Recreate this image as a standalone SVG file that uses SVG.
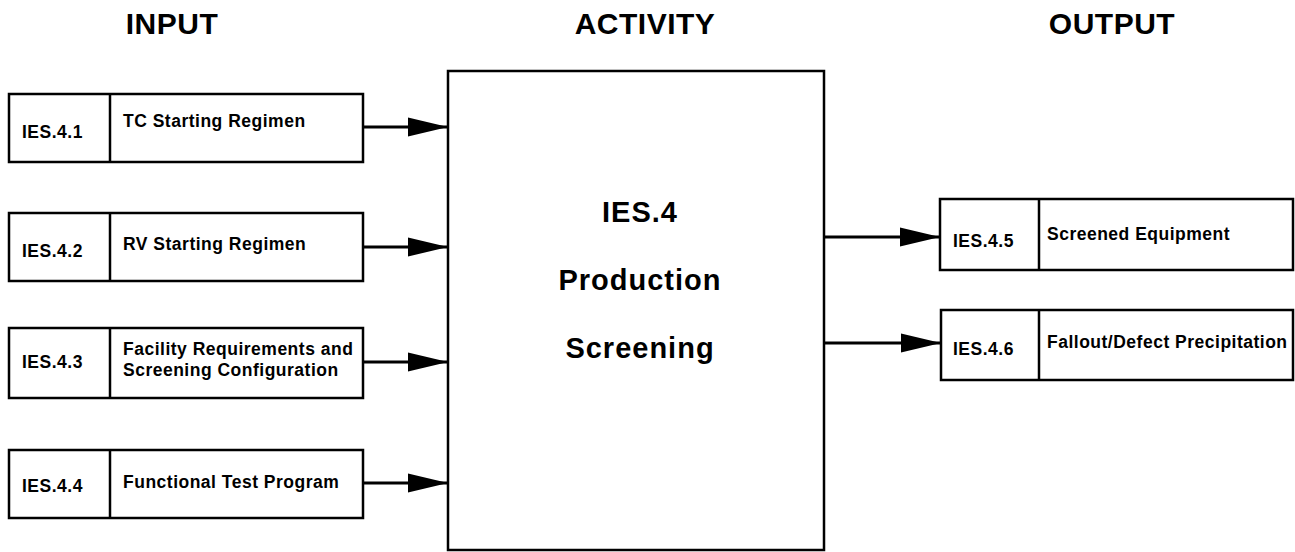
<svg xmlns="http://www.w3.org/2000/svg" width="1295" height="552" viewBox="0 0 1295 552">
<style>
.box{fill:#fff;stroke:#000;stroke-width:2.5}
.div{stroke:#000;stroke-width:2.5}
.conn{stroke:#000;stroke-width:3.2;fill:none}
.head{font-family:"Liberation Sans",Arial,sans-serif;font-weight:bold;font-size:30px;letter-spacing:0.5px;text-anchor:middle;fill:#000}
.t{font-family:"Liberation Sans",Arial,sans-serif;font-weight:bold;font-size:17.5px;letter-spacing:0.5px;fill:#000}
.big{font-family:"Liberation Sans",Arial,sans-serif;font-weight:bold;font-size:29px;letter-spacing:1px;text-anchor:middle;fill:#000}
</style>
<defs>
<marker id="arr" viewBox="0 0 40 20" refX="40" refY="10" markerWidth="40" markerHeight="20" markerUnits="userSpaceOnUse" orient="auto">
<path d="M0,0.5 L40,10 L0,19.5 z" fill="#000"/>
</marker>
</defs>
<rect width="1295" height="552" fill="#fff"/>
<g id="headings">
<text class="head" x="172" y="34">INPUT</text>
<text class="head" x="645" y="34">ACTIVITY</text>
<text class="head" x="1112" y="34">OUTPUT</text>
</g>
<g id="activity">
<rect class="box" x="448" y="71" width="376" height="479"/>
<text class="big" x="640" y="222">IES.4</text>
<text class="big" x="640" y="290">Production</text>
<text class="big" x="640" y="358">Screening</text>
</g>
<g id="ies-4-1">
<rect class="box" x="9" y="94" width="354" height="68"/>
<line class="div" x1="110" y1="94" x2="110" y2="162"/>
<text class="t" x="22" y="138">IES.4.1</text>
<text class="t" x="123" y="127">TC Starting Regimen</text>
</g>
<g id="ies-4-2">
<rect class="box" x="9" y="213" width="354" height="68"/>
<line class="div" x1="110" y1="213" x2="110" y2="281"/>
<text class="t" x="22" y="257">IES.4.2</text>
<text class="t" x="123" y="250">RV Starting Regimen</text>
</g>
<g id="ies-4-3">
<rect class="box" x="9" y="328" width="354" height="70"/>
<line class="div" x1="110" y1="328" x2="110" y2="398"/>
<text class="t" x="22" y="368">IES.4.3</text>
<text class="t" x="123" y="355">Facility Requirements and</text>
<text class="t" x="123" y="376">Screening Configuration</text>
</g>
<g id="ies-4-4">
<rect class="box" x="9" y="450" width="354" height="68"/>
<line class="div" x1="110" y1="450" x2="110" y2="518"/>
<text class="t" x="22" y="492">IES.4.4</text>
<text class="t" x="123" y="488">Functional Test Program</text>
</g>
<g id="ies-4-5">
<rect class="box" x="940" y="199" width="353" height="71"/>
<line class="div" x1="1039" y1="199" x2="1039" y2="270"/>
<text class="t" x="953" y="247">IES.4.5</text>
<text class="t" x="1047" y="240">Screened Equipment</text>
</g>
<g id="ies-4-6">
<rect class="box" x="941" y="310" width="352" height="70"/>
<line class="div" x1="1039" y1="310" x2="1039" y2="380"/>
<text class="t" x="953" y="355">IES.4.6</text>
<text class="t" x="1047" y="348">Fallout/Defect Precipitation</text>
</g>
<g id="connectors">
<line class="conn" x1="363" y1="127" x2="448" y2="127" marker-end="url(#arr)"/>
<line class="conn" x1="363" y1="247" x2="448" y2="247" marker-end="url(#arr)"/>
<line class="conn" x1="363" y1="362" x2="448" y2="362" marker-end="url(#arr)"/>
<line class="conn" x1="363" y1="483" x2="448" y2="483" marker-end="url(#arr)"/>
<line class="conn" x1="824" y1="237" x2="940" y2="237" marker-end="url(#arr)"/>
<line class="conn" x1="824" y1="343" x2="941" y2="343" marker-end="url(#arr)"/>
</g>
</svg>
